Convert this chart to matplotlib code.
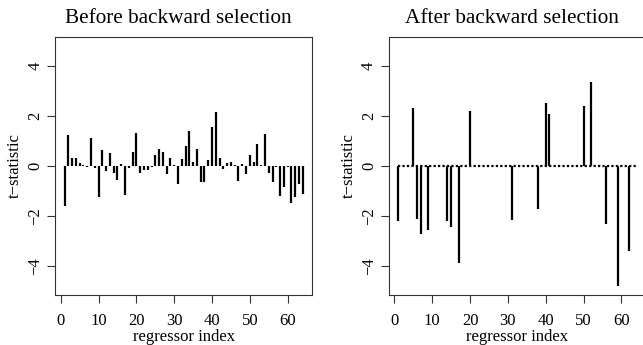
import matplotlib
matplotlib.use("Agg")
import matplotlib.pyplot as plt
import numpy as np

# t-statistics for each of the 64 regressors, full model
t_before = [-1.59, 1.25, 0.32, 0.32, 0.12, 0.05, -0.05, 1.12, -0.06, -1.23,
            0.62, -0.19, 0.53, -0.29, -0.56, 0.07, -1.16, -0.08, 0.57, 1.33,
            -0.29, -0.16, -0.16, -0.05, 0.43, 0.67, 0.56, -0.32, 0.32, 0.05,
            -0.73, 0.27, 0.79, 1.41, 0.15, 0.67, -0.65, -0.65, 0.24, 1.57,
            2.15, 0.33, -0.13, 0.11, 0.15, 0.05, -0.60, 0.07, -0.32, 0.43,
            0.17, 0.87, 0.03, 1.29, -0.27, -0.65, -0.03, -1.21, -0.85, -0.05,
            -1.49, -1.24, -0.73, -1.12]

# regressors kept after backward selection and their t-statistics
kept_index = [1, 5, 6, 7, 9, 14, 15, 17, 20, 31, 38, 40, 41, 50, 52, 56, 59, 62]
kept_t = [-2.20, 2.31, -2.10, -2.73, -2.57, -2.19, -2.44, -3.87, 2.20, -2.15,
          -1.71, 2.52, 2.09, 2.39, 3.33, -2.32, -4.77, -3.37]

titles = ["Before backward selection", "After backward selection"]
yticks = [-4, -2, 0, 2, 4]
xticks = [0, 10, 20, 30, 40, 50, 60]

idx = np.arange(1, len(t_before) + 1)
t_after = np.zeros(len(idx))
t_after[np.array(kept_index) - 1] = kept_t

plt.rcParams['font.family'] = ['Liberation Serif', 'DejaVu Serif']

W, H = 643, 345
fig = plt.figure(figsize=(W / 100, H / 100), dpi=100)
ax1 = fig.add_axes([55 / W, 50.3 / H, 257.3 / W, 257.4 / H])
ax2 = fig.add_axes([388.7 / W, 50.3 / H, 257.3 / W, 257.4 / H])

ax1.vlines(idx, 0, t_before, color='black', lw=1.6)
ax2.vlines(idx, 0, t_after, color='black', lw=1.6)
ax2.plot(idx, np.zeros(len(idx)), color='black', lw=1.6, ls=(0, (1, 1)))

for ax, title in zip([ax1, ax2], titles):
    ax.set_xlim(-1.52, 66.52)
    ax.set_ylim(-5.13, 5.13)
    ax.set_xticks(xticks)
    ax.set_yticks(yticks)
    ax.tick_params(direction='out', length=6, width=0.8, color='#333333',
                   labelsize=12)
    ax.tick_params(axis='x', pad=7)
    ax.tick_params(axis='y', pad=2.5)
    for lab in ax.get_yticklabels():
        lab.set_rotation(90)
        lab.set_va('center')
    for sp in ax.spines.values():
        sp.set_color('#333333')
        sp.set_linewidth(0.8)
    ax.set_title(title, fontsize=15.3, pad=10, x=0.478)
    ax.set_xlabel('regressor index', fontsize=12, labelpad=0)
    ax.set_ylabel('t\u2212statistic', fontsize=12, labelpad=3)

fig.savefig('out.png', dpi=100)
